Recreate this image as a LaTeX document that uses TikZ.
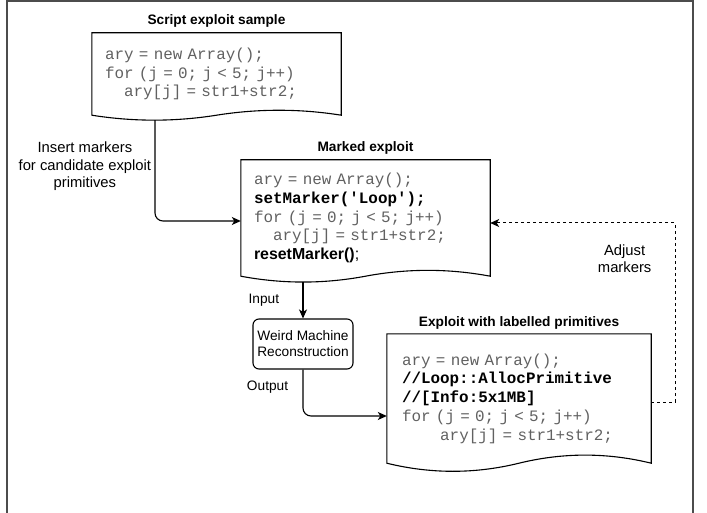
\documentclass[tikz,border=0pt]{standalone}
\usepackage{fontspec}
\setmainfont{Liberation Sans}
\setsansfont{Liberation Sans}
\setmonofont{Liberation Mono}
\usetikzlibrary{arrows.meta, positioning, calc}

% outline of a document shape (wavy bottom) round a node
\newcommand{\docoutline}[2]{%
  \draw[docline] (#1.south west) -- (#1.north west) -- (#1.north east) -- (#1.south east)
    .. controls ($(#1.south east)!1/6!(#1.south west)+(0,-0.6*#2)$) and ($(#1.south east)!1/3!(#1.south west)+(0,-0.6*#2)$) .. (#1.south)
    .. controls ($(#1.south east)!2/3!(#1.south west)+(0,0.6*#2)$) and ($(#1.south east)!5/6!(#1.south west)+(0,0.6*#2)$) .. cycle;}
\newcommand{\codebf}[1]{\textcolor{black}{\bfseries #1}}

\begin{document}
\begin{tikzpicture}[x=1pt, y=-1pt, >={Stealth[length=9pt,width=8pt,inset=2.5pt]},
    docline/.style={line width=1.1pt},
    doc/.style={inner xsep=13pt, inner ysep=0pt, align=left, text=black!62,
      font=\fontsize{15.9}{18.7}\selectfont\ttfamily},
    title/.style={inner sep=0pt, font=\fontsize{13.7}{16}\selectfont\bfseries},
    lbl/.style={font=\fontsize{14.8}{17.5}\selectfont, align=center},
    small/.style={font=\fontsize{13.7}{16}\selectfont, align=center},
    flow/.style={->, line width=1.1pt, rounded corners=8pt}]
    \useasboundingbox (0,0) rectangle (707,513);
    \draw[line width=1.3pt, black!70] (7,513) -- (7,1) -- (693,1) -- (693,513);

    % the three documents
    \node[doc, text width=223pt, minimum height=82pt] (script) at (216.5,74)
      {ary = new Array();\\ for (j = 0; j < 5; j++)\\ \phantom{aa}ary[j] = str1+str2;};
    \docoutline{script}{11}
    \node[title, above=5pt of script] (scripttitle) {Script exploit sample};

    \node[doc, text width=223pt, minimum height=116pt] (marked) at (365.5,218)
      {ary = new Array();\\ \codebf{setMarker('Loop');}\\ for (j = 0; j < 5; j++)\\
       \phantom{aa}ary[j] = str1+str2;\\ \codebf{\sffamily resetMarker()}\textcolor{black}{\sffamily ;}};
    \docoutline{marked}{13}
    \node[title, above=5pt of marked] (markedtitle) {Marked exploit};

    \node[doc, inner xsep=15pt, text width=234pt, minimum height=129pt] (labelled) at (519,398.5)
      {ary = new Array();\\ \codebf{//Loop::AllocPrimitive}\\ \codebf{//[Info:5x1MB]}\\
       for (j = 0; j < 5; j++)\\ \phantom{aaaa}ary[j] = str1+str2;};
    \docoutline{labelled}{18}
    \node[title, above=4pt of labelled] (labelledtitle) {Exploit with labelled primitives};

    \node[draw, line width=1.1pt, rounded corners=6pt, small, minimum width=100pt, minimum height=50pt] (wmr) at (303,344)
      {Weird Machine\\Reconstruction};

    % connectors
    \draw[flow] ([xshift=-61.5pt,yshift=-5pt]script.south) |- node[lbl, pos=0.23, left] (insertlbl)
      {Insert markers\\for candidate exploit\\primitives} ([yshift=-3pt]marked.west);
    \draw[flow] ($(wmr.north |- marked.south)+(0,6)$) -- node[small, left=20pt] (inputlbl) {Input} (wmr.north);
    \draw[flow] (wmr.south) |- node[small, pos=0.19, left=11pt] (outputlbl) {Output} ([yshift=-17.5pt]labelled.west);
    \draw[flow, sharp corners, line width=1pt, dash pattern=on 3pt off 3pt] ([yshift=-3.5pt]labelled.east) -- ++(24,0)
      |- node[lbl, pos=0.4, left=20pt] (adjustlbl) {Adjust\\markers} ([yshift=-5pt]marked.east);
\end{tikzpicture}
\end{document}
